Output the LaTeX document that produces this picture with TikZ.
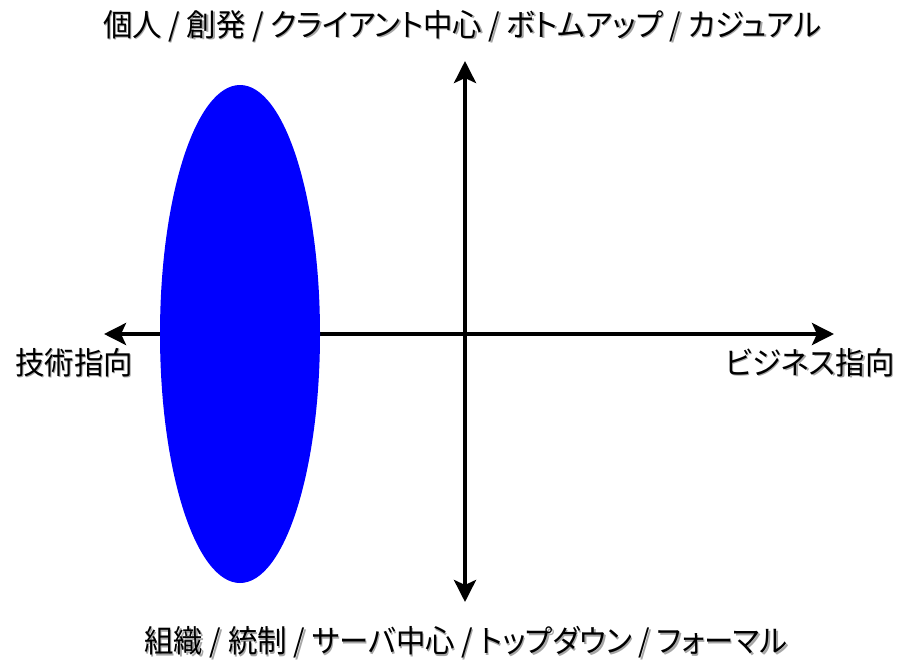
\documentclass[tikz,border=0pt]{standalone}
\usepackage{fontspec}
\setmainfont{Noto Sans CJK JP}[RawFeature=+palt]
\usetikzlibrary{arrows.meta}
\newcommand{\shd}[1]{\makebox[0pt][l]{\hspace{1.5pt}\raisebox{-1.5pt}{\color{black!35}#1}}#1}
\tikzset{
  axis/.style={line width=4pt, {Stealth[length=22pt,width=22pt,inset=5pt]}-{Stealth[length=22pt,width=22pt,inset=5pt]}},
  lbl/.style={inner sep=0pt, font=\fontsize{31}{33}\selectfont, text=black, xscale=0.95},
  blob/.style={fill=blue, draw=none}
}
\begin{document}
\begin{tikzpicture}[x=1pt,y=-1pt]
\useasboundingbox (0,0) rectangle (899,661);
\coordinate (L) at (104,334);
\coordinate (R) at (834,334);
\coordinate (T) at (465,61);
\coordinate (B) at (465,602);
\draw[axis] (L) -- (R);
\draw[axis] (T) -- (B);
\fill[blob] (240,334) ellipse [x radius=80, y radius=249];
\node[lbl] (top) at (462,27) {\shd{個人 / 創発 / クライアント中心 / ボトムアップ / カジュアル}};
\node[lbl] (bot) at (466,643) {\shd{組織 / 統制 / サーバ中心 / トップダウン / フォーマル}};
\node[lbl] (left) at (74,363) {\shd{技術指向}};
\node[lbl] (right) at (810,363) {\shd{ビジネス指向}};
\end{tikzpicture}
\end{document}
